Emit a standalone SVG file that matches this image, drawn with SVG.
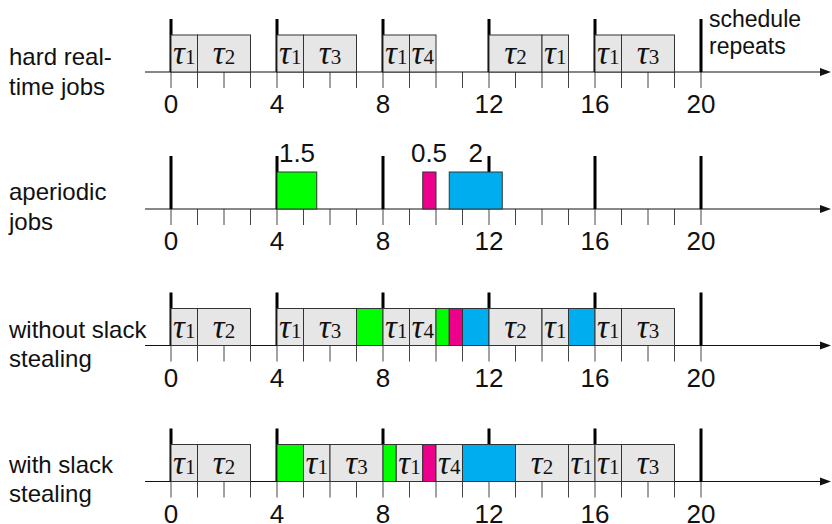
<svg xmlns="http://www.w3.org/2000/svg" xmlns:xlink="http://www.w3.org/1999/xlink" width="832" height="524" viewBox="0 0 832 524">
<style>
.lbl{font-family:"Liberation Sans","DejaVu Sans",sans-serif;font-size:24px;fill:#111}
.num{font-family:"Liberation Sans","DejaVu Sans",sans-serif;font-size:26px;fill:#111;text-anchor:middle}
.job{fill:#e6e6e6;stroke:#333;stroke-width:1}
.g{fill:#00ff00;stroke:#333;stroke-width:1}
.m{fill:#ec008c;stroke:#333;stroke-width:1}
.c{fill:#00aeef;stroke:#333;stroke-width:1}
.tau{font-family:"Liberation Serif","DejaVu Serif",serif;font-size:33px;fill:#111;text-anchor:middle}
.tau tspan.t{font-style:italic}
.tau tspan.s{font-size:21px}
.tick{stroke:#444;stroke-width:1;fill:none}
.axis{stroke:#111;stroke-width:1}
.bar{fill:#000}
</style>
<defs>
<g id="timeline">
<path class="tick" d="M171 0v16M197.5 0v16M224 0v16M250.5 0v16M277 0v16M303.5 0v16M330 0v16M356.5 0v16M383 0v16M409.5 0v16M436 0v16M462.5 0v16M489 0v16M515.5 0v16M542 0v16M568.5 0v16M595 0v16M621.5 0v16M648 0v16M674.5 0v16M701 0v16"/>
<line class="axis" x1="145" y1="0" x2="823" y2="0"/>
<polygon points="831,0 820,-4 820,4" fill="#111"/>
<rect class="bar" x="169.5" y="-53" width="3" height="53"/>
<rect class="bar" x="275.5" y="-53" width="3" height="53"/>
<rect class="bar" x="381.5" y="-53" width="3" height="53"/>
<rect class="bar" x="487.5" y="-53" width="3" height="53"/>
<rect class="bar" x="593.5" y="-53" width="3" height="53"/>
<rect class="bar" x="699.5" y="-53" width="3" height="53"/>
<text class="num" x="171" y="41">0</text>
<text class="num" x="277" y="41">4</text>
<text class="num" x="383" y="41">8</text>
<text class="num" x="489" y="41">12</text>
<text class="num" x="595" y="41">16</text>
<text class="num" x="701" y="41">20</text>
</g>
</defs>

<g id="row1">
<text class="lbl" x="9" y="65">hard real-</text>
<text class="lbl" x="9" y="95">time jobs</text>
<use xlink:href="#timeline" href="#timeline" transform="translate(0,72)"/>
<g id="r1-boxes">
<rect class="job" x="171" y="35" width="26.5" height="37"/>
<rect class="job" x="197.5" y="35" width="53" height="37"/>
<rect class="job" x="277" y="35" width="26.5" height="37"/>
<rect class="job" x="303.5" y="35" width="53" height="37"/>
<rect class="job" x="383" y="35" width="26.5" height="37"/>
<rect class="job" x="409.5" y="35" width="26.5" height="37"/>
<rect class="job" x="489" y="35" width="53" height="37"/>
<rect class="job" x="542" y="35" width="26.5" height="37"/>
<rect class="job" x="595" y="35" width="26.5" height="37"/>
<rect class="job" x="621.5" y="35" width="53" height="37"/>
<text class="tau" x="184.25" y="64"><tspan class="t">τ</tspan><tspan class="s">1</tspan></text>
<text class="tau" x="224" y="64"><tspan class="t">τ</tspan><tspan class="s">2</tspan></text>
<text class="tau" x="290.25" y="64"><tspan class="t">τ</tspan><tspan class="s">1</tspan></text>
<text class="tau" x="330" y="64"><tspan class="t">τ</tspan><tspan class="s">3</tspan></text>
<text class="tau" x="396.25" y="64"><tspan class="t">τ</tspan><tspan class="s">1</tspan></text>
<text class="tau" x="422.75" y="64"><tspan class="t">τ</tspan><tspan class="s">4</tspan></text>
<text class="tau" x="515.5" y="64"><tspan class="t">τ</tspan><tspan class="s">2</tspan></text>
<text class="tau" x="555.25" y="64"><tspan class="t">τ</tspan><tspan class="s">1</tspan></text>
<text class="tau" x="608.25" y="64"><tspan class="t">τ</tspan><tspan class="s">1</tspan></text>
<text class="tau" x="648" y="64"><tspan class="t">τ</tspan><tspan class="s">3</tspan></text>
</g>
<text class="lbl" x="709" y="27" style="font-size:23px">schedule</text>
<text class="lbl" x="709" y="54" style="font-size:23px">repeats</text>
</g>

<g id="row2">
<text class="lbl" x="9" y="200">aperiodic</text>
<text class="lbl" x="9" y="230">jobs</text>
<use xlink:href="#timeline" href="#timeline" transform="translate(0,209)"/>
<g id="r2-boxes">
<rect class="g" x="277" y="172" width="39.75" height="37"/>
<rect class="m" x="422.75" y="172" width="13.25" height="37"/>
<rect class="c" x="449.25" y="172" width="53" height="37"/>
<text class="num" x="297" y="162">1.5</text>
<text class="num" x="429" y="162">0.5</text>
<text class="num" x="475.75" y="162">2</text>
</g>
</g>

<g id="row3">
<text class="lbl" x="9" y="338">without slack</text>
<text class="lbl" x="9" y="367">stealing</text>
<use xlink:href="#timeline" href="#timeline" transform="translate(0,345.5)"/>
<g id="r3-boxes">
<rect class="job" x="171" y="308.5" width="26.5" height="37"/>
<rect class="job" x="197.5" y="308.5" width="53" height="37"/>
<rect class="job" x="277" y="308.5" width="26.5" height="37"/>
<rect class="job" x="303.5" y="308.5" width="53" height="37"/>
<rect class="g" x="356.5" y="308.5" width="26.5" height="37"/>
<rect class="job" x="383" y="308.5" width="26.5" height="37"/>
<rect class="job" x="409.5" y="308.5" width="26.5" height="37"/>
<rect class="g" x="436" y="308.5" width="13.25" height="37"/>
<rect class="m" x="449.25" y="308.5" width="13.25" height="37"/>
<rect class="c" x="462.5" y="308.5" width="26.5" height="37"/>
<rect class="job" x="489" y="308.5" width="53" height="37"/>
<rect class="job" x="542" y="308.5" width="26.5" height="37"/>
<rect class="c" x="568.5" y="308.5" width="26.5" height="37"/>
<rect class="job" x="595" y="308.5" width="26.5" height="37"/>
<rect class="job" x="621.5" y="308.5" width="53" height="37"/>
<text class="tau" x="184.25" y="337.5"><tspan class="t">τ</tspan><tspan class="s">1</tspan></text>
<text class="tau" x="224" y="337.5"><tspan class="t">τ</tspan><tspan class="s">2</tspan></text>
<text class="tau" x="290.25" y="337.5"><tspan class="t">τ</tspan><tspan class="s">1</tspan></text>
<text class="tau" x="330" y="337.5"><tspan class="t">τ</tspan><tspan class="s">3</tspan></text>
<text class="tau" x="396.25" y="337.5"><tspan class="t">τ</tspan><tspan class="s">1</tspan></text>
<text class="tau" x="422.75" y="337.5"><tspan class="t">τ</tspan><tspan class="s">4</tspan></text>
<text class="tau" x="515.5" y="337.5"><tspan class="t">τ</tspan><tspan class="s">2</tspan></text>
<text class="tau" x="555.25" y="337.5"><tspan class="t">τ</tspan><tspan class="s">1</tspan></text>
<text class="tau" x="608.25" y="337.5"><tspan class="t">τ</tspan><tspan class="s">1</tspan></text>
<text class="tau" x="648" y="337.5"><tspan class="t">τ</tspan><tspan class="s">3</tspan></text>
</g>
</g>

<g id="row4">
<text class="lbl" x="9" y="473">with slack</text>
<text class="lbl" x="9" y="502">stealing</text>
<use xlink:href="#timeline" href="#timeline" transform="translate(0,481.5)"/>
<g id="r4-boxes">
<rect class="job" x="171" y="444.5" width="26.5" height="37"/>
<rect class="job" x="197.5" y="444.5" width="53" height="37"/>
<rect class="g" x="277" y="444.5" width="26.5" height="37"/>
<rect class="job" x="303.5" y="444.5" width="26.5" height="37"/>
<rect class="job" x="330" y="444.5" width="53" height="37"/>
<rect class="g" x="383" y="444.5" width="13.25" height="37"/>
<rect class="job" x="396.25" y="444.5" width="26.5" height="37"/>
<rect class="m" x="422.75" y="444.5" width="13.25" height="37"/>
<rect class="job" x="436" y="444.5" width="26.5" height="37"/>
<rect class="c" x="462.5" y="444.5" width="53" height="37"/>
<rect class="job" x="515.5" y="444.5" width="53" height="37"/>
<rect class="job" x="568.5" y="444.5" width="26.5" height="37"/>
<rect class="job" x="595" y="444.5" width="26.5" height="37"/>
<rect class="job" x="621.5" y="444.5" width="53" height="37"/>
<text class="tau" x="184.25" y="473.5"><tspan class="t">τ</tspan><tspan class="s">1</tspan></text>
<text class="tau" x="224" y="473.5"><tspan class="t">τ</tspan><tspan class="s">2</tspan></text>
<text class="tau" x="316.75" y="473.5"><tspan class="t">τ</tspan><tspan class="s">1</tspan></text>
<text class="tau" x="356.5" y="473.5"><tspan class="t">τ</tspan><tspan class="s">3</tspan></text>
<text class="tau" x="409.5" y="473.5"><tspan class="t">τ</tspan><tspan class="s">1</tspan></text>
<text class="tau" x="449.25" y="473.5"><tspan class="t">τ</tspan><tspan class="s">4</tspan></text>
<text class="tau" x="542" y="473.5"><tspan class="t">τ</tspan><tspan class="s">2</tspan></text>
<text class="tau" x="581.75" y="473.5"><tspan class="t">τ</tspan><tspan class="s">1</tspan></text>
<text class="tau" x="608.25" y="473.5"><tspan class="t">τ</tspan><tspan class="s">1</tspan></text>
<text class="tau" x="648" y="473.5"><tspan class="t">τ</tspan><tspan class="s">3</tspan></text>
</g>
</g>
</svg>
